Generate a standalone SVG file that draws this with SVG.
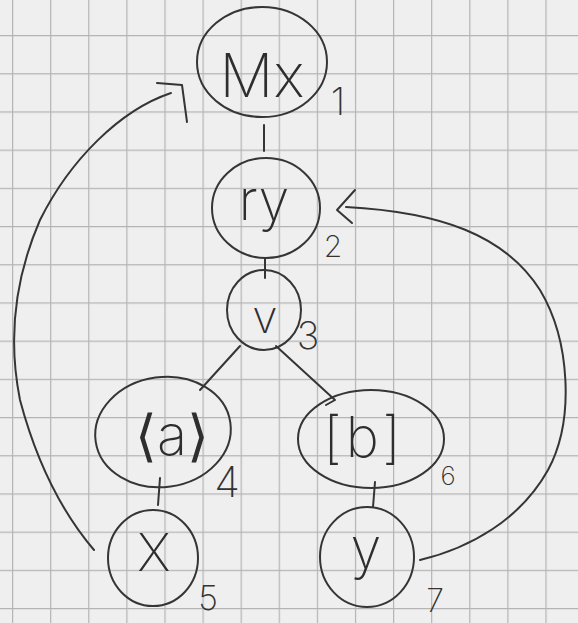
<svg xmlns="http://www.w3.org/2000/svg" width="578" height="623" viewBox="0 0 578 623">
<style>
.pen{fill:none;stroke:#353535;stroke-width:2;stroke-linecap:round;stroke-linejoin:round}
.lbl{font-family:"Inter","DejaVu Sans",sans-serif;font-weight:200;fill:#2e2e2e;text-anchor:middle}
.num{font-family:"Inter","DejaVu Sans",sans-serif;font-weight:200;fill:#333;text-anchor:middle}
</style>
<defs>
<pattern id="grid" patternUnits="userSpaceOnUse" x="12" y="-3.2" width="38.1" height="38.2">
<path d="M0.5 0V38.2M0 0.5H38.1" fill="none" stroke="#b4b4b4" stroke-width="1.4"/>
</pattern>
</defs>
<rect width="578" height="623" fill="#efefef"/>
<rect width="578" height="623" fill="url(#grid)"/>

<g id="connectors">
<path class="pen" d="M264 125V151"/>
<path class="pen" d="M265 258V278"/>
<path class="pen" d="M240 346L200 390"/>
<path class="pen" d="M276 346L335 400L326 405"/>
<path class="pen" d="M160 478L158 505"/>
<path class="pen" d="M375 482L373 507"/>
<path class="pen" d="M94 550C60 510 36 460 20 400C8 340 14 280 40 220C70 160 120 110 171 93"/>
<path class="pen" d="M157 83L182 85L187 122"/>
<path class="pen" d="M420 560C470 548 520 520 548 470C575 420 570 340 540 290C505 235 440 212 346 207"/>
<path class="pen" d="M355 190L337 210L352 223"/>
</g>

<g id="n1">
<ellipse class="pen" cx="262" cy="62" rx="65" ry="55"/>
<text class="lbl" x="262" y="97" font-size="60">Mx</text>
<text class="num" x="338" y="115" font-size="38">1</text>
</g>
<g id="n2">
<ellipse class="pen" cx="266" cy="208" rx="54" ry="50"/>
<text class="lbl" x="264" y="220" font-size="56">ry</text>
<text class="num" x="333" y="257" font-size="30">2</text>
</g>
<g id="n3">
<ellipse class="pen" cx="264" cy="310" rx="37" ry="40"/>
<text class="lbl" x="265" y="333" font-size="46">v</text>
<text class="num" x="308" y="349" font-size="38">3</text>
</g>
<g id="n4">
<ellipse class="pen" cx="163" cy="432" rx="68" ry="55" transform="rotate(-8 163 432)"/>
<text class="lbl" x="172" y="455" font-size="56">⟨a⟩</text>
<text class="num" x="227" y="497" font-size="42">4</text>
</g>
<g id="n5">
<ellipse class="pen" cx="153" cy="558" rx="45" ry="48"/>
<text class="lbl" x="154" y="571" font-size="52">X</text>
<text class="num" x="208" y="610" font-size="34">5</text>
</g>
<g id="n6">
<ellipse class="pen" cx="371" cy="439" rx="73" ry="49"/>
<text class="lbl" x="364" y="457" font-size="56" letter-spacing="4">[b]</text>
<text class="num" x="448" y="485" font-size="26">6</text>
</g>
<g id="n7">
<ellipse class="pen" cx="367" cy="557" rx="47" ry="50"/>
<text class="lbl" x="366" y="568" font-size="56">y</text>
<text class="num" x="435" y="612" font-size="32">7</text>
</g>
</svg>
